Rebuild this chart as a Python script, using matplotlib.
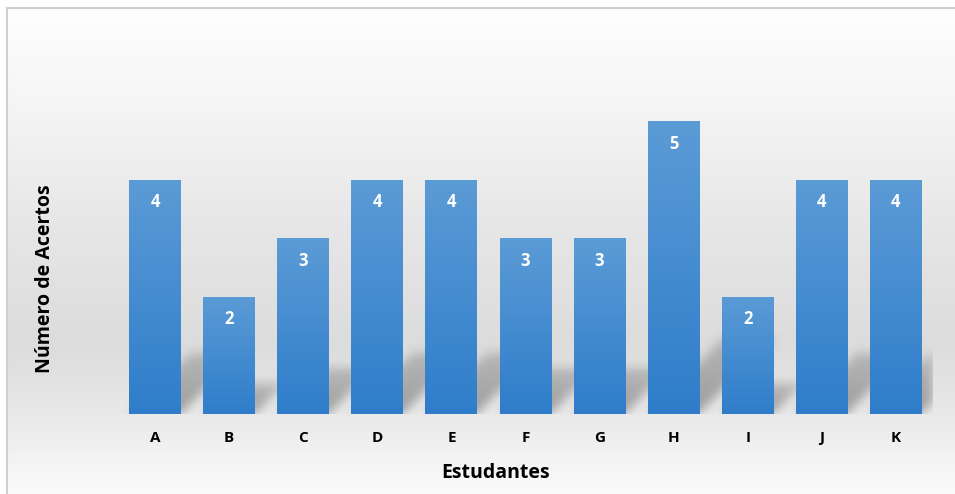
import numpy as np
import matplotlib
matplotlib.use("Agg")
import matplotlib.pyplot as plt
from matplotlib.colors import LinearSegmentedColormap
from matplotlib.lines import Line2D

# ===============================
# Data
# ===============================
estudantes = ["A", "B", "C", "D", "E", "F", "G", "H", "I", "J", "K"]
acertos = [4, 2, 3, 4, 4, 3, 3, 5, 2, 4, 4]

bar_top = "#5b9bd6"
bar_bottom = "#2f7dca"
bar_width = 0.7

plt.rcParams["font.family"] = ["Open Sans", "DejaVu Sans"]

fig = plt.figure(figsize=(9.55, 4.94), dpi=100)

# ===============================
# Background gradient + frame
# ===============================
bg = fig.add_axes([0, 0, 1, 1], zorder=0)
bg_cmap = LinearSegmentedColormap.from_list(
    "bg",
    [(0.0, "#ffffff"), (0.2, "#f6f6f6"), (0.45, "#e7e7e7"),
     (0.7, "#dcdcdc"), (0.86, "#ebebeb"), (1.0, "#fbfbfb")])
grad = np.linspace(0, 1, 256).reshape(-1, 1)
bg.imshow(grad, aspect="auto", cmap=bg_cmap, extent=[0, 1, 0, 1], origin="upper")
bg.set_xlim(0, 1)
bg.set_ylim(0, 1)
bg.axis("off")

fx0, fy1 = 7 / 955, 1 - 8 / 494
bg.fill_between([0, 1], fy1, 1, color="white", lw=0)
bg.fill_between([0, fx0], 0, 1, color="white", lw=0)
fig.add_artist(Line2D([fx0, 1], [fy1, fy1], color="#cfcfcf", lw=1.5))
fig.add_artist(Line2D([fx0, fx0], [0, fy1], color="#cfcfcf", lw=1.5))

# ===============================
# Main axes
# ===============================
ax = fig.add_axes([118 / 955, 80 / 494, 815 / 955, 351 / 494], zorder=1)
ax.set_facecolor("none")
x = np.arange(len(estudantes))
ax.set_xlim(-0.5, len(estudantes) - 0.5)
ax.set_ylim(0, 6)

# soft perspective shadows behind the bars
nx, ny = 815, 351
gx = np.linspace(-0.5, len(estudantes) - 0.5, nx)
gy = np.linspace(0, 6, ny)
XX, YY = np.meshgrid(gx, gy)
mask = np.zeros_like(XX)
for xi, v in zip(x, acertos):
    t = 0.26 * v
    s = t * (351 / 6) / (815 / 11)
    frac = np.clip(YY / t, 0, 1)
    left = xi - bar_width / 2 + s * frac
    right = xi + bar_width / 2 + s * frac
    inside = (YY <= t) & (XX >= left) & (XX <= right)
    mask = np.maximum(mask, inside * (1 - 0.45 * frac))

sig = 5
k = np.arange(-3 * sig, 3 * sig + 1)
kern = np.exp(-k ** 2 / (2 * sig ** 2))
kern /= kern.sum()
mask = np.apply_along_axis(lambda r: np.convolve(r, kern, mode="same"), 1, mask)
mask = np.apply_along_axis(lambda c: np.convolve(c, kern, mode="same"), 0, mask)

shadow = np.zeros((ny, nx, 4))
shadow[..., :3] = 0.25
shadow[..., 3] = mask * 0.45
ax.imshow(shadow, extent=[-0.5, len(estudantes) - 0.5, 0, 6], origin="lower",
          aspect="auto", zorder=1, interpolation="bilinear")

# bars with a vertical gradient fill
bars = ax.bar(x, acertos, width=bar_width, color="none", lw=0, zorder=2)
bar_cmap = LinearSegmentedColormap.from_list("bar", [bar_bottom, bar_top])
for b in bars:
    bx, by = b.get_x(), b.get_y()
    bw, bh = b.get_width(), b.get_height()
    im = ax.imshow(np.linspace(0, 1, 128).reshape(-1, 1), cmap=bar_cmap,
                   extent=[bx, bx + bw, by, by + bh], origin="lower",
                   aspect="auto", zorder=3)
    im.set_clip_path(b)

for xi, v in zip(x, acertos):
    ax.annotate(str(v), (xi, v), xytext=(0, -16), textcoords="offset points",
                ha="center", va="center", color="white", fontsize=12,
                fontweight="bold", zorder=4)

ax.set_xlim(-0.5, len(estudantes) - 0.5)
ax.set_ylim(0, 6)
ax.set_xticks(x)
ax.set_xticklabels(estudantes, fontsize=11, fontweight="bold")
ax.tick_params(axis="x", length=0, pad=12)
ax.set_yticks([])
for sp in ax.spines.values():
    sp.set_visible(False)

fig.text(496 / 955, 21 / 494, "Estudantes", ha="center", va="center",
         fontsize=14, fontweight="bold")
fig.text(45 / 955, 215 / 494, "Número de Acertos", ha="center", va="center",
         rotation=90, fontsize=14, fontweight="bold")

fig.savefig("out.png", dpi=100)
